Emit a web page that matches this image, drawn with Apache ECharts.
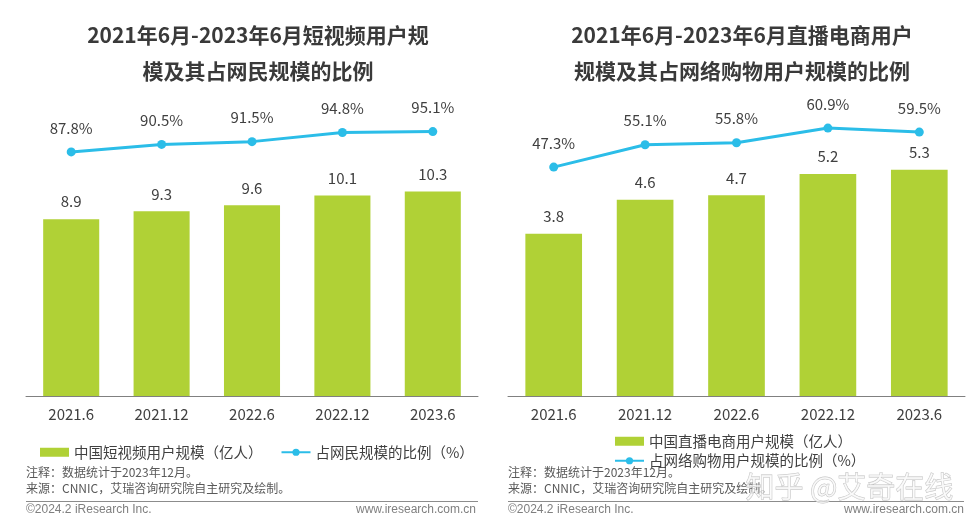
<!DOCTYPE html>
<html>
<head>
<meta charset="utf-8">
<script src="https://cdn.jsdelivr.net/npm/echarts@6/dist/echarts.min.js"></script>
<style>html,body{margin:0;padding:0;background:#fff;}#c{width:978px;height:525px;}</style>
</head>
<body>
<div id="c"></div>
<script>
var categories = ['2021.6', '2021.12', '2022.6', '2022.12', '2023.6'];
var shortVideoUsers = [8.9, 9.3, 9.6, 10.1, 10.3];
var shortVideoShare = [87.8, 90.5, 91.5, 94.8, 95.1];
var liveCommerceUsers = [3.8, 4.6, 4.7, 5.2, 5.3];
var liveCommerceShare = [47.3, 55.1, 55.8, 60.9, 59.5];

var FONT = '"Noto Sans CJK SC", "Noto Sans", sans-serif';
var GREEN = '#b0d136';
var BLUE = '#2bbde8';
var TXT = '#404040';

var chart = echarts.init(document.getElementById('c'), null, {renderer: 'canvas'});

function xAxis(gi) {
  return {
    type: 'category', gridIndex: gi, data: categories,
    axisLine: {lineStyle: {color: '#808080', width: 1}},
    axisTick: {show: false},
    axisLabel: {color: TXT, fontSize: 15, fontFamily: FONT, margin: 11}
  };
}
function yAxis(gi, min, max) {
  return {type: 'value', gridIndex: gi, min: min, max: max, show: false, splitLine: {show: false}};
}
function barSeries(name, gi, data) {
  return {
    name: name, type: 'bar', xAxisIndex: gi, yAxisIndex: gi * 2, data: data,
    barWidth: '62%', itemStyle: {color: GREEN},
    label: {show: true, position: 'top', distance: 10, color: TXT, fontSize: 15, fontFamily: FONT},
    z: 2
  };
}
function lineSeries(name, gi, data) {
  return {
    name: name, type: 'line', xAxisIndex: gi, yAxisIndex: gi * 2 + 1, data: data,
    symbol: 'circle', symbolSize: 9,
    lineStyle: {color: BLUE, width: 3}, itemStyle: {color: BLUE},
    label: {show: true, position: 'top', distance: 12, color: TXT, fontSize: 15, fontFamily: FONT,
      formatter: function (p) { return p.value.toFixed(1) + '%'; }},
    z: 3
  };
}

chart.setOption({
  backgroundColor: '#fff',
  animation: false,
  title: [
    {text: '2021年6月-2023年6月短视频用户规\n模及其占网民规模的比例', left: 253, top: 12, textAlign: 'center',
      textStyle: {color: '#3a3a3a', fontSize: 21, fontWeight: 'bold', fontFamily: FONT, lineHeight: 36}},
    {text: '2021年6月-2023年6月直播电商用户\n规模及其占网络购物用户规模的比例', left: 737, top: 12, textAlign: 'center',
      textStyle: {color: '#3a3a3a', fontSize: 21, fontWeight: 'bold', fontFamily: FONT, lineHeight: 36}}
  ],
  legend: [
    {left: 35, top: 440, itemWidth: 29, itemHeight: 9, itemGap: 18,
      textStyle: {color: TXT, fontSize: 14.5, fontFamily: FONT},
      data: [{name: '中国短视频用户规模（亿人）', icon: 'rect'}, {name: '占网民规模的比例（%）'}]},
    {left: 609, top: 429, orient: 'vertical', itemWidth: 29, itemHeight: 9, itemGap: 5,
      textStyle: {color: TXT, fontSize: 14.5, fontFamily: FONT},
      data: [{name: '中国直播电商用户规模（亿人）', icon: 'rect'}, {name: '占网络购物用户规模的比例（%）'}]}
  ],
  grid: [
    {left: 26, right: 500, top: 118, bottom: 129},
    {left: 508, right: 13, top: 110, bottom: 129}
  ],
  xAxis: [xAxis(0), xAxis(1)],
  yAxis: [yAxis(0, 0, 14), yAxis(0, 0, 100), yAxis(1, 0, 6.7), yAxis(1, -32.5, 67.2)],
  series: [
    barSeries('中国短视频用户规模（亿人）', 0, shortVideoUsers),
    lineSeries('占网民规模的比例（%）', 0, shortVideoShare),
    barSeries('中国直播电商用户规模（亿人）', 1, liveCommerceUsers),
    lineSeries('占网络购物用户规模的比例（%）', 1, liveCommerceShare)
  ],
  graphic: [
    {type: 'text', left: 26, top: 466, style: {text: '注释：数据统计于2023年12月。', fill: '#595959', font: '12px ' + FONT}},
    {type: 'text', left: 26, top: 482, style: {text: '来源：CNNIC，艾瑞咨询研究院自主研究及绘制。', fill: '#595959', font: '12px ' + FONT}},
    {type: 'line', shape: {x1: 26, y1: 501.5, x2: 478, y2: 501.5}, style: {stroke: '#8c8c8c', lineWidth: 1}},
    {type: 'text', left: 26, top: 504, style: {text: '©2024.2 iResearch Inc.', fill: '#7f7f7f', font: '12px "Liberation Sans", Arial, sans-serif'}},
    {type: 'text', right: 978 - 476, top: 504, style: {text: 'www.iresearch.com.cn', fill: '#7f7f7f', font: '12px "Liberation Sans", Arial, sans-serif'}},

    {type: 'text', left: 508, top: 466, style: {text: '注释：数据统计于2023年12月。', fill: '#595959', font: '12px ' + FONT}},
    {type: 'text', left: 508, top: 482, style: {text: '来源：CNNIC，艾瑞咨询研究院自主研究及绘制。', fill: '#595959', font: '12px ' + FONT}},
    {type: 'line', shape: {x1: 508, y1: 501.5, x2: 964, y2: 501.5}, style: {stroke: '#8c8c8c', lineWidth: 1}},
    {type: 'text', left: 508, top: 504, style: {text: '©2024.2 iResearch Inc.', fill: '#7f7f7f', font: '12px "Liberation Sans", Arial, sans-serif'}},
    {type: 'text', right: 978 - 964, top: 504, style: {text: 'www.iresearch.com.cn', fill: '#7f7f7f', font: '12px "Liberation Sans", Arial, sans-serif'}},

    {type: 'text', left: 745, top: 472, z: 100,
      style: {text: '知乎 @艾奇在线', fill: 'rgba(250,250,250,0.7)', stroke: 'rgba(170,170,170,0.75)', lineWidth: 0.8, font: '29px ' + FONT}}
  ]
});
</script>
</body>
</html>
